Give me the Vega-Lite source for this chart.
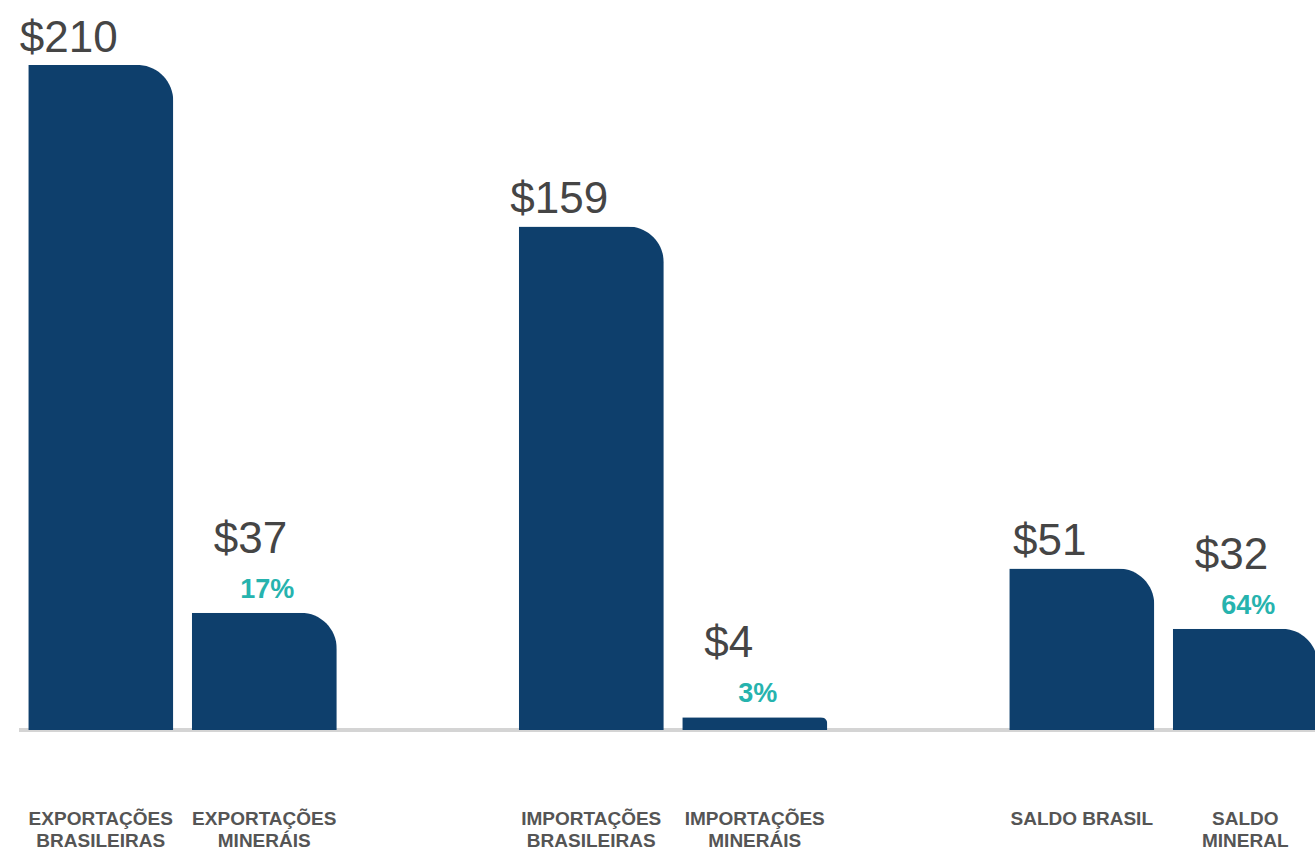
{
  "$schema": "https://vega.github.io/schema/vega-lite/v6.json",
  "width": 1296,
  "height": 730,
  "autosize": {"type": "none"},
  "padding": {"left": 19, "top": 0, "right": 0, "bottom": 127},
  "background": "white",
  "config": {"view": {"stroke": null}},
  "data": {
    "values": [
      {"slot": "s0", "cat": "EXPORTAÇÕES\nBRASILEIRAS", "value": 210, "valueLabel": "$210", "pct": "", "kind": "total"},
      {"slot": "s1", "cat": "EXPORTAÇÕES\nMINERÁIS", "value": 37, "valueLabel": "$37", "pct": "17%", "kind": "mineral"},
      {"slot": "s3", "cat": "IMPORTAÇÕES\nBRASILEIRAS", "value": 159, "valueLabel": "$159", "pct": "", "kind": "total"},
      {"slot": "s4", "cat": "IMPORTAÇÕES\nMINERÁIS", "value": 4, "valueLabel": "$4", "pct": "3%", "kind": "mineral"},
      {"slot": "s6", "cat": "SALDO BRASIL", "value": 51, "valueLabel": "$51", "pct": "", "kind": "total"},
      {"slot": "s7", "cat": "SALDO\nMINERAL", "value": 32, "valueLabel": "$32", "pct": "64%", "kind": "mineral"}
    ]
  },
  "encoding": {
    "x": {
      "field": "slot",
      "type": "nominal",
      "scale": {
        "domain": ["s0", "s1", "s2", "s3", "s4", "s5", "s6", "s7"],
        "range": [0, 1308],
        "paddingInner": 0.113,
        "paddingOuter": 0.0565
      },
      "axis": null
    },
    "y": {
      "field": "value",
      "type": "quantitative",
      "scale": {"domain": [0, 230.5], "nice": false},
      "axis": null
    }
  },
  "layer": [
    {
      "mark": {"type": "rule", "color": "#d4d4d4", "strokeWidth": 3},
      "encoding": {"y": {"datum": 0}, "x": null}
    },
    {
      "mark": {"type": "bar", "color": "#0e3f6c", "cornerRadiusTopRight": 36}
    },
    {
      "transform": [{"filter": "datum.kind === 'total'"}],
      "mark": {"type": "text", "align": "center", "baseline": "alphabetic", "dx": -32, "dy": -13, "fontSize": 44, "font": "Liberation Sans", "color": "#454545"},
      "encoding": {"text": {"field": "valueLabel"}}
    },
    {
      "transform": [{"filter": "datum.kind === 'mineral'"}],
      "mark": {"type": "text", "align": "left", "baseline": "alphabetic", "dx": 22, "dy": -60, "fontSize": 44, "font": "Liberation Sans", "color": "#454545"},
      "encoding": {
        "x": {"field": "slot", "type": "nominal", "bandPosition": 0},
        "text": {"field": "valueLabel"}
      }
    },
    {
      "transform": [{"filter": "datum.kind === 'mineral'"}],
      "mark": {"type": "text", "align": "center", "baseline": "alphabetic", "dx": 3, "dy": -15, "fontSize": 27, "fontWeight": "bold", "font": "Liberation Sans", "color": "#26b3ae"},
      "encoding": {"text": {"field": "pct"}}
    },
    {
      "mark": {"type": "text", "align": "center", "baseline": "alphabetic", "dy": 95, "fontSize": 19, "fontWeight": "bold", "font": "Liberation Sans", "color": "#555555", "lineBreak": "\n", "lineHeight": 22},
      "encoding": {"y": {"datum": 0}, "text": {"field": "cat"}}
    }
  ]
}
